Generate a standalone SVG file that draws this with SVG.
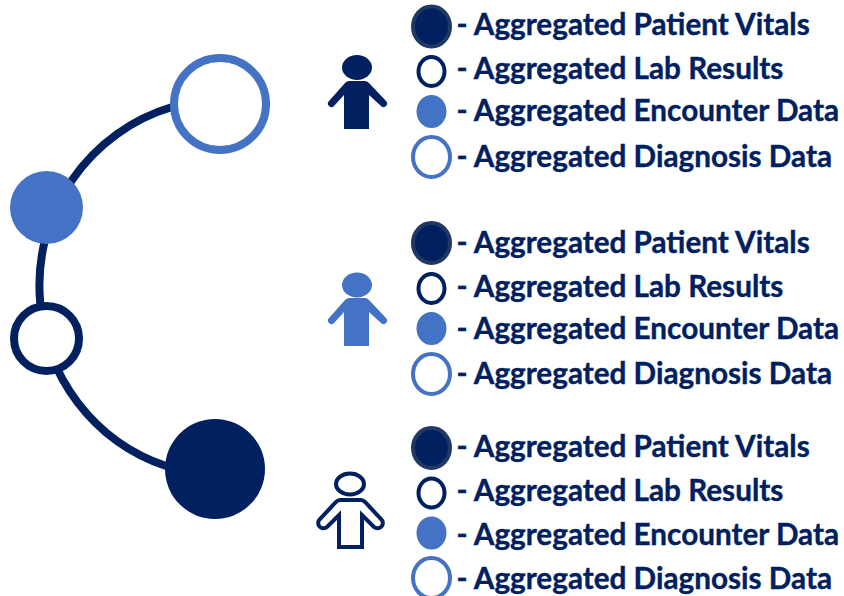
<svg xmlns="http://www.w3.org/2000/svg" width="844" height="596" viewBox="0 0 844 596">
<style>
.lbl{font-family:"Lato","Liberation Sans",sans-serif;font-weight:700;font-size:29.700px;fill:#002060;stroke:#002060;stroke-width:.4px}
.d{fill:#002060;stroke:#203864;stroke-width:4}
.o{fill:#fff;stroke:#002060;stroke-width:4}
.f{fill:#4472C4}
.l{fill:#fff;stroke:#4472C4;stroke-width:4}
</style>
<rect width="844" height="596" fill="#fff"/>
<g id="connectors" fill="none" stroke="#002060" stroke-width="8">
<path d="M172 107A186 186 0 0 0 40 300A186 186 0 0 0 166 466"/>
</g>
<g id="timeline-1"><circle cx="220" cy="104" r="46" fill="#fff" stroke="#4472C4" stroke-width="8"/></g>
<g id="timeline-2"><circle cx="46.500" cy="207.500" r="36.500" fill="#4472C4"/></g>
<g id="timeline-3"><circle cx="46.500" cy="338.500" r="32.500" fill="#fff" stroke="#002060" stroke-width="8"/></g>
<g id="timeline-4"><circle cx="215" cy="469" r="50" fill="#002060"/></g>
<g id="person-1" fill="#002060"><ellipse cx="357" cy="67.500" rx="15" ry="12.500"/><path d="M349 81H365Q367 81 369 83L386 101A3.500 3.500 0 0 1 381 106L369 95V129H344V95L334 106A3.500 3.500 0 0 1 329 101L345 83Q347 81 349 81Z"/></g>
<g id="person-2" fill="#4472C4"><ellipse cx="357" cy="285" rx="15" ry="12.500"/><path d="M349 298H365Q367 298 369 300L386 318A3.500 3.500 0 0 1 381 323L369 312V346H344V312L334 323A3.500 3.500 0 0 1 329 318L345 300Q347 298 349 298Z"/></g>
<g id="person-3" fill="none" stroke="#002060" stroke-width="4"><ellipse cx="350" cy="484" rx="14" ry="10.500"/><path d="M340 500H361Q363 500 365 502L381 519A5 5 0 0 1 374 527L362 515V547H339V515L327 527A5 5 0 0 1 320 519L336 502Q338 500 340 500Z"/></g>
<g id="legend-1">
<ellipse class="d" cx="431.500" cy="26.500" rx="18.500" ry="20"/><ellipse class="o" cx="431.500" cy="71.500" rx="13" ry="14.500"/><ellipse class="f" cx="431.500" cy="111.500" rx="15" ry="16.500"/><ellipse class="l" cx="431.500" cy="157" rx="18.500" ry="20"/>
<text class="lbl" x="456.500" y="35">- Aggregated Patient Vitals</text><text class="lbl" x="456.500" y="79">- Aggregated Lab Results</text><text class="lbl" x="456.500" y="121">- Aggregated Encounter Data</text><text class="lbl" x="456.500" y="167">- Aggregated Diagnosis Data</text>
</g>
<g id="legend-2">
<ellipse class="d" cx="431.500" cy="243" rx="18.500" ry="20"/><ellipse class="o" cx="431.500" cy="288.500" rx="13" ry="14.500"/><ellipse class="f" cx="431.500" cy="328.500" rx="15" ry="16.500"/><ellipse class="l" cx="431.500" cy="374" rx="18.500" ry="20"/>
<text class="lbl" x="456.500" y="253">- Aggregated Patient Vitals</text><text class="lbl" x="456.500" y="297">- Aggregated Lab Results</text><text class="lbl" x="456.500" y="339">- Aggregated Encounter Data</text><text class="lbl" x="456.500" y="384">- Aggregated Diagnosis Data</text>
</g>
<g id="legend-3">
<ellipse class="d" cx="431.500" cy="448" rx="18.500" ry="20"/><ellipse class="o" cx="431.500" cy="493" rx="13" ry="14.500"/><ellipse class="f" cx="431.500" cy="533" rx="15" ry="16.500"/><ellipse class="l" cx="431.500" cy="578" rx="18.500" ry="20"/>
<text class="lbl" x="456.500" y="457">- Aggregated Patient Vitals</text><text class="lbl" x="456.500" y="501">- Aggregated Lab Results</text><text class="lbl" x="456.500" y="545">- Aggregated Encounter Data</text><text class="lbl" x="456.500" y="589">- Aggregated Diagnosis Data</text>
</g>
</svg>
